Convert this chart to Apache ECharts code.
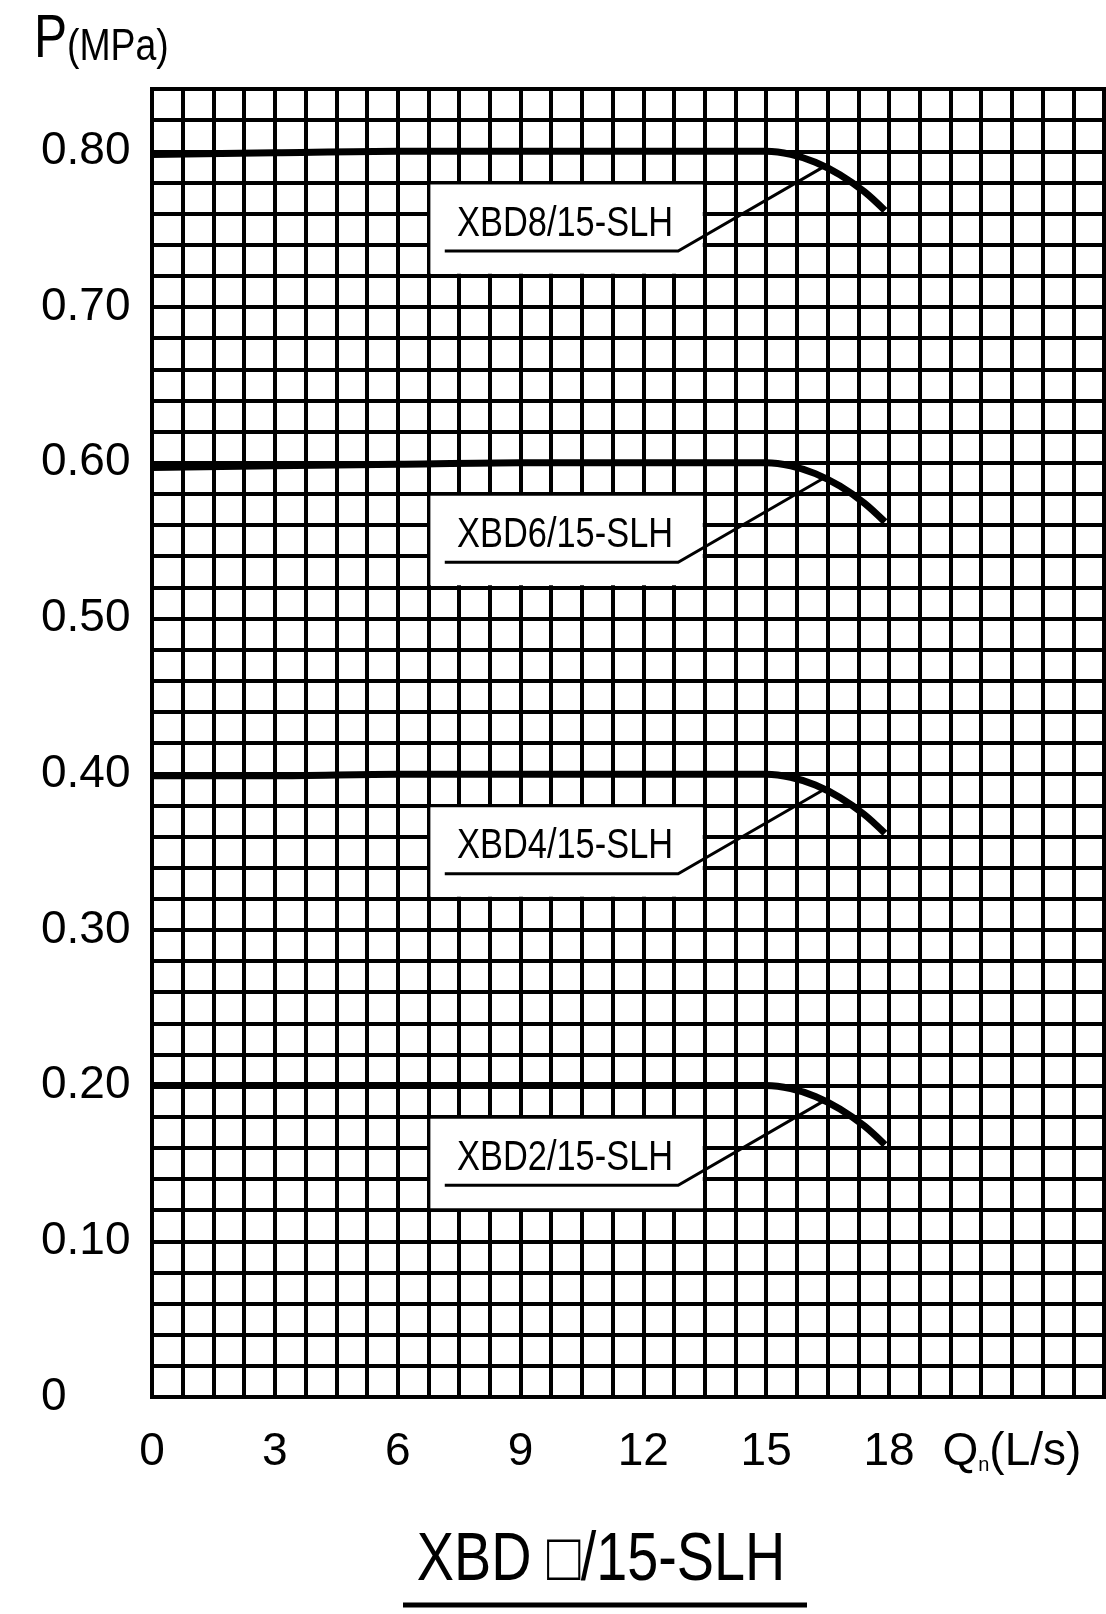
<!DOCTYPE html>
<html>
<head>
<meta charset="utf-8">
<script src="https://cdn.jsdelivr.net/npm/echarts@6/dist/echarts.min.js"></script>
<style>
html,body{margin:0;padding:0;background:#fff;}
#chart{width:1106px;height:1614px;}
</style>
</head>
<body>
<div id="chart"></div>
<script>
// ---- data ----
const flow = [0, 3, 6, 9, 12, 15, 15.6, 16.2, 16.8, 17.4, 17.9];
const pXBD8 = [0.798, 0.799, 0.800, 0.800, 0.800, 0.800, 0.798, 0.793, 0.785, 0.774, 0.762];
const pXBD6 = [0.597, 0.598, 0.599, 0.600, 0.600, 0.600, 0.598, 0.593, 0.585, 0.574, 0.562];
const pXBD4 = [0.399, 0.399, 0.400, 0.400, 0.400, 0.400, 0.398, 0.393, 0.385, 0.374, 0.362];
const pXBD2 = [0.200, 0.200, 0.200, 0.200, 0.200, 0.200, 0.198, 0.193, 0.185, 0.174, 0.162];
const modelNames = ['XBD8/15-SLH', 'XBD6/15-SLH', 'XBD4/15-SLH', 'XBD2/15-SLH'];
const ratedP = [0.80, 0.60, 0.40, 0.20];
const xTickLabels = ['0', '3', '6', '9', '12', '15', '18'];
const yTickLabels = ['0', '0.10', '0.20', '0.30', '0.40', '0.50', '0.60', '0.70', '0.80'];
const xAxisName = 'Q{sub|n}(L/s)';
const yAxisName = 'P';
const yAxisUnit = '(MPa)';
const chartTitle = 'XBD \u25A1/15-SLH';

// ---- chart ----
const FONT = '"Liberation Sans", Arial, sans-serif';
const chart = echarts.init(document.getElementById('chart'), null, {renderer: 'canvas'});

const curves = [pXBD8, pXBD6, pXBD4, pXBD2];
const lineSeries = curves.map((arr, i) => ({
  type: 'line',
  name: modelNames[i],
  data: flow.map((x, k) => [x, arr[k]]),
  symbol: 'none',
  smooth: 0.3,
  lineStyle: {color: '#000', width: 7},
  z: 5,
  silent: true
}));

const annotSeries = {
  type: 'custom',
  z: 4,
  silent: true,
  data: ratedP.map((p, i) => [i, p]),
  renderItem: function (params, api) {
    const p0 = api.value(1);
    const name = modelNames[params.dataIndex];
    const tl = api.coord([6.75, p0 - 0.02]);
    const br = api.coord([13.5, p0 - 0.08]);
    const a = api.coord([7.15, p0 - 0.064]);
    const b = api.coord([12.85, p0 - 0.064]);
    const c = api.coord([16.4, p0 - 0.010]);
    const t = api.coord([7.45, p0 - 0.0465]);
    return {
      type: 'group',
      children: [
        {type: 'rect', shape: {x: tl[0] + 2, y: tl[1] + 2, width: br[0] - tl[0] - 4, height: br[1] - tl[1] - 4},
         style: {fill: '#fff'}},
        {type: 'polyline', shape: {points: [a, b, c]}, style: {stroke: '#000', lineWidth: 3, fill: null}},
        {type: 'text', x: t[0], y: t[1], scaleX: 0.8,
         style: {text: name, fontSize: 43, fontFamily: FONT, fill: '#000', align: 'left', verticalAlign: 'middle'}}
      ]
    };
  }
};

const option = {
  backgroundColor: '#fff',
  animation: false,
  grid: {left: 152, top: 89, right: 2, bottom: 217, show: true, borderColor: '#000', borderWidth: 4},
  xAxis: {
    type: 'value', min: 0, max: 23.25, interval: 0.75,
    axisLine: {show: true, lineStyle: {color: '#000', width: 4}},
    axisTick: {show: false},
    splitLine: {show: true, lineStyle: {color: '#000', width: 4}},
    axisLabel: {
      show: true, margin: 32, fontSize: 46, fontFamily: FONT, color: '#000', showMaxLabel: false,
      formatter: function (v) {
        const idx = Math.round(v / 0.75);
        if (idx % 4 !== 0) return '';
        const k = idx / 4;
        if (k < xTickLabels.length) return xTickLabels[k];
        if (k === xTickLabels.length) return xAxisName;
        return '';
      },
      rich: {sub: {fontSize: 20, fontFamily: FONT, color: '#000', verticalAlign: 'bottom', padding: [18, 0, 0, 0]}}
    }
  },
  yAxis: {
    type: 'value', min: 0, max: 0.84, interval: 0.02,
    axisLine: {show: true, lineStyle: {color: '#000', width: 4}},
    axisTick: {show: false},
    splitLine: {show: true, lineStyle: {color: '#000', width: 4}},
    axisLabel: {
      show: true, margin: 111, align: 'left', fontSize: 46, fontFamily: FONT, color: '#000',
      padding: [10, 0, 0, 0],
      formatter: function (v) {
        const idx = Math.round(v / 0.02);
        if (idx % 5 !== 0) return '';
        const k = idx / 5;
        return k < yTickLabels.length ? yTickLabels[k] : '';
      }
    }
  },
  graphic: [
    {type: 'text', x: 34, y: 40, scaleX: 0.8,
     style: {text: yAxisName, fontSize: 62, fontFamily: FONT, fill: '#000', align: 'left', verticalAlign: 'middle'}},
    {type: 'text', x: 67, y: 48, scaleX: 0.85,
     style: {text: yAxisUnit, fontSize: 44, fontFamily: FONT, fill: '#000', align: 'left', verticalAlign: 'middle'}},
    {type: 'text', x: 601, y: 1561, scaleX: 0.82,
     style: {text: chartTitle, fontSize: 68, fontFamily: FONT, fill: '#000', align: 'center', verticalAlign: 'middle'}},
    {type: 'line', shape: {x1: 403, y1: 1605, x2: 807, y2: 1605}, style: {stroke: '#000', lineWidth: 5}}
  ],
  series: [annotSeries].concat(lineSeries)
};
chart.setOption(option);
</script>
</body>
</html>
